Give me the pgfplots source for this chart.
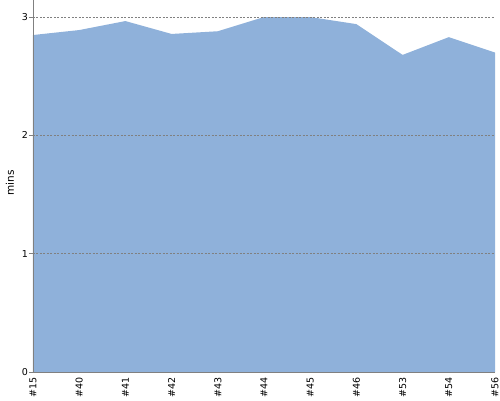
\documentclass[border=0pt]{standalone}
\usepackage{fontspec}
\setmainfont{DejaVu Sans}
\usepackage{pgfplots}
\pgfplotsset{compat=1.18}
\definecolor{fillc}{RGB}{143,177,218}
\definecolor{axc}{RGB}{128,128,128}
\begin{document}
\begin{tikzpicture}[x=1pt,y=1pt]
\path[use as bounding box] (-33,-28) rectangle (467,372);
\begin{axis}[
  at={(0,0)}, anchor=south west,
  scale only axis, width=462pt, height=372pt,
  xmin=0, xmax=10, ymin=0, ymax=3.144,
  axis x line*=bottom, axis y line*=left,
  axis line style={axc, line width=0.8pt, -},
  xtick={0,...,10},
  xticklabels={\#15,\#40,\#41,\#42,\#43,\#44,\#45,\#46,\#53,\#54,\#56},
  x tick label style={rotate=90, anchor=east, inner sep=1.5pt, font=\fontsize{9.5}{11}\selectfont},
  ytick={0,1,2,3},
  y tick label style={inner sep=0pt, xshift=-1pt, font=\fontsize{9.5}{11}\selectfont},
  /pgf/number format/assume math mode=true,
  xtick style={draw=none},
  ytick style={axc, line width=0.6pt},
  tick align=outside, major tick length=4pt,
  ymajorgrids, grid style={axc, line width=0.5pt, dash pattern=on 2pt off 1.5pt},
  ylabel={mins}, ylabel style={font=\fontsize{10.5}{12}\selectfont, at={(axis description cs:-0.0498,0.508)}, anchor=center},
  axis on top,
]
\addplot[fill=fillc, draw=none] coordinates {
(0,2.848) (1,2.89) (2,2.966) (3,2.857) (4,2.88) (5,3.0) (6,3.0) (7,2.94) (8,2.68) (9,2.83) (10,2.70)
} \closedcycle;
\end{axis}
\end{tikzpicture}
\end{document}
